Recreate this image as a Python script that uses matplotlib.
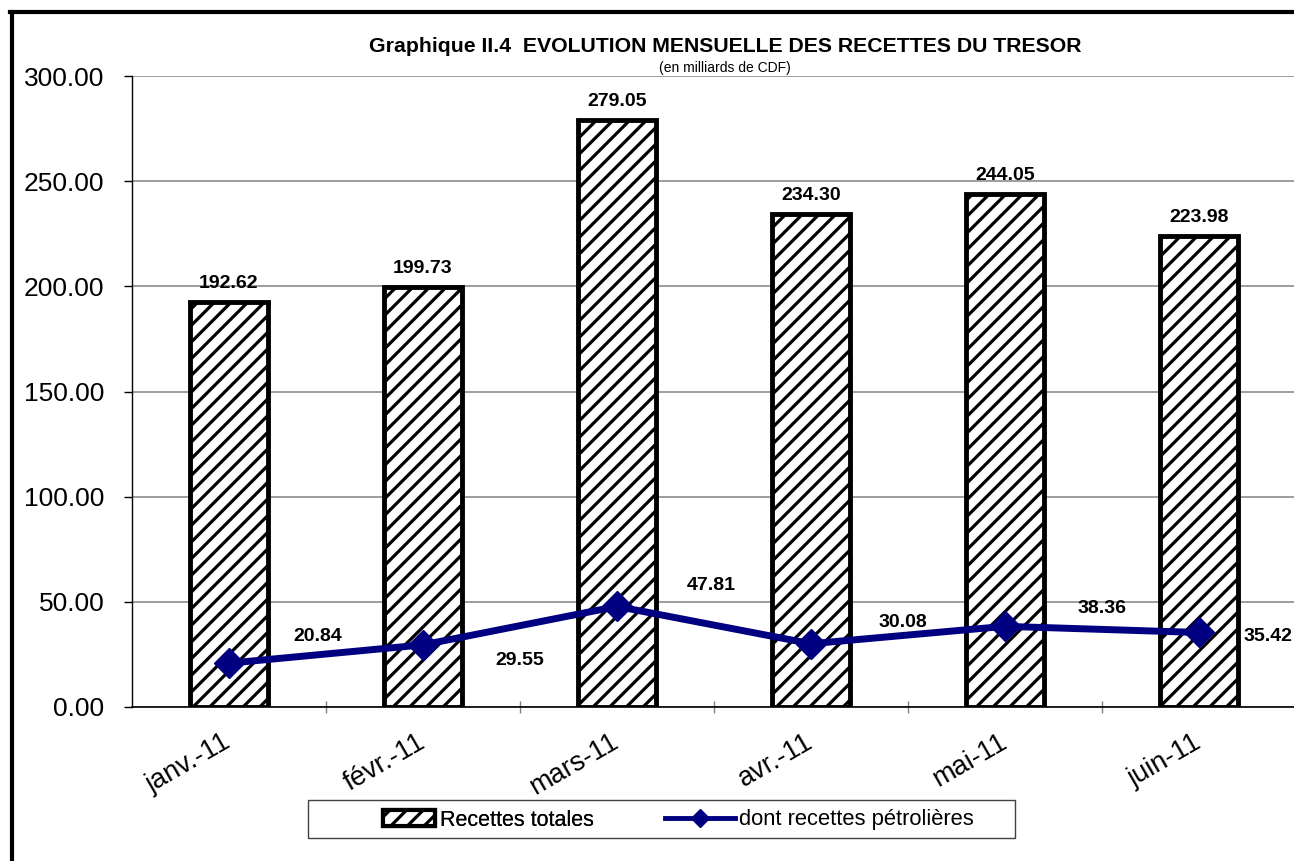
import matplotlib
matplotlib.use("Agg")
import matplotlib.pyplot as plt
from matplotlib.lines import Line2D
from matplotlib.patches import Rectangle, Patch
import numpy as np

months = ["janv.-11", "févr.-11", "mars-11", "avr.-11", "mai-11", "juin-11"]
recettes_totales = [192.62, 199.73, 279.05, 234.30, 244.05, 223.98]
recettes_petrolieres = [20.84, 29.55, 47.81, 30.08, 38.36, 35.42]
yticks = [0, 50, 100, 150, 200, 250, 300]

# label offsets (points) for the line values
line_label_offsets = [(64, 19), (70, -11), (68, 15), (66, 15), (70, 13), (50, -3)]

plt.rcParams['font.family'] = ['Liberation Sans', 'DejaVu Sans']
plt.rcParams['hatch.linewidth'] = 2.3
plt.rcParams['hatch.color'] = '#222222'

W, H = 1294, 861
fig = plt.figure(figsize=(W / 100, H / 100), dpi=100)
ax = fig.add_axes([132 / W, 1 - 707 / H, (1296 - 132) / W, (707 - 76) / H])

x = np.arange(len(months))
bars = ax.bar(x, recettes_totales, width=0.4, facecolor='white', edgecolor='black',
              linewidth=3.5, hatch='//', zorder=2)
line, = ax.plot(x, recettes_petrolieres, color='#000080', linewidth=5, marker='D',
                markersize=15, zorder=4)

for xi, v in zip(x, recettes_totales):
    ax.annotate(f"{v:.2f}", (xi, v), xytext=(0, 7), textcoords='offset points',
                ha='center', va='bottom', fontsize=14, fontweight='bold')
for xi, v, off in zip(x, recettes_petrolieres, line_label_offsets):
    ax.annotate(f"{v:.2f}", (xi, v), xytext=off, textcoords='offset points',
                ha='center', va='center', fontsize=14, fontweight='bold')

ax.set_xlim(-0.5, len(months) - 0.5)
ax.set_ylim(0, 300)
ax.set_yticks(yticks)
ax.set_yticklabels([f"{t:.2f}" for t in yticks], fontsize=19)
ax.yaxis.grid(True, color='#8c8c8c', linewidth=1.2, zorder=0)
ax.set_axisbelow(True)

ax.set_xticks(x)
ax.set_xticklabels(months, fontsize=19.5, rotation=30, ha='right', va='center',
                   rotation_mode='anchor')
ax.tick_params(axis='x', which='major', length=0, pad=24)
ax.set_xticks(np.arange(-0.5, len(months), 1.0)[1:], minor=True)
ax.tick_params(axis='x', which='minor', length=8, direction='inout', color='#808080', width=1)
ax.tick_params(axis='y', length=6, direction='out', width=1, pad=14)

for s in ['top', 'right']:
    ax.spines[s].set_visible(False)
ax.spines['left'].set_linewidth(1.0)
ax.spines['bottom'].set_linewidth(1.2)

fig.text(725 / W, 1 - 46 / H, "Graphique II.4  EVOLUTION MENSUELLE DES RECETTES DU TRESOR",
         ha='center', va='center', fontsize=15.3, fontweight='bold')
fig.text(725 / W, 1 - 68 / H, "(en milliards de CDF)", ha='center', va='center', fontsize=10)

# legend
legend_y = 1 - 820 / H
h_bar = Patch(facecolor='white', edgecolor='black', linewidth=3, hatch='//')
h_line = Line2D([], [], color='#000080', linewidth=3.5, marker='D', markersize=9)
leg1 = fig.legend(handles=[h_bar], labels=['Recettes totales'], loc='center left',
                  bbox_to_anchor=(383 / W, legend_y), fontsize=15.5, frameon=False,
                  borderpad=0, borderaxespad=0, handlelength=2.4, handletextpad=0.25)
leg2 = fig.legend(handles=[h_line], labels=['dont recettes pétrolières'], loc='center left',
                  bbox_to_anchor=(665 / W, legend_y), fontsize=15.8, frameon=False,
                  borderpad=0, borderaxespad=0, handlelength=3.2, handletextpad=0.15)
fig.add_artist(leg1)
fig.add_artist(Rectangle((308 / W, 1 - 838 / H), 707 / W, 38 / H, transform=fig.transFigure,
                         fill=False, edgecolor='#404040', linewidth=1.0))

# outer frame (left and top edges visible)
fig.add_artist(Line2D([12 / W, 12 / W], [0, 1 - 11.5 / H], color='black', linewidth=3, transform=fig.transFigure))
fig.add_artist(Line2D([10 / W, 1], [1 - 11.5 / H, 1 - 11.5 / H], color='black', linewidth=3, transform=fig.transFigure))

fig.savefig("out.png", dpi=100)
